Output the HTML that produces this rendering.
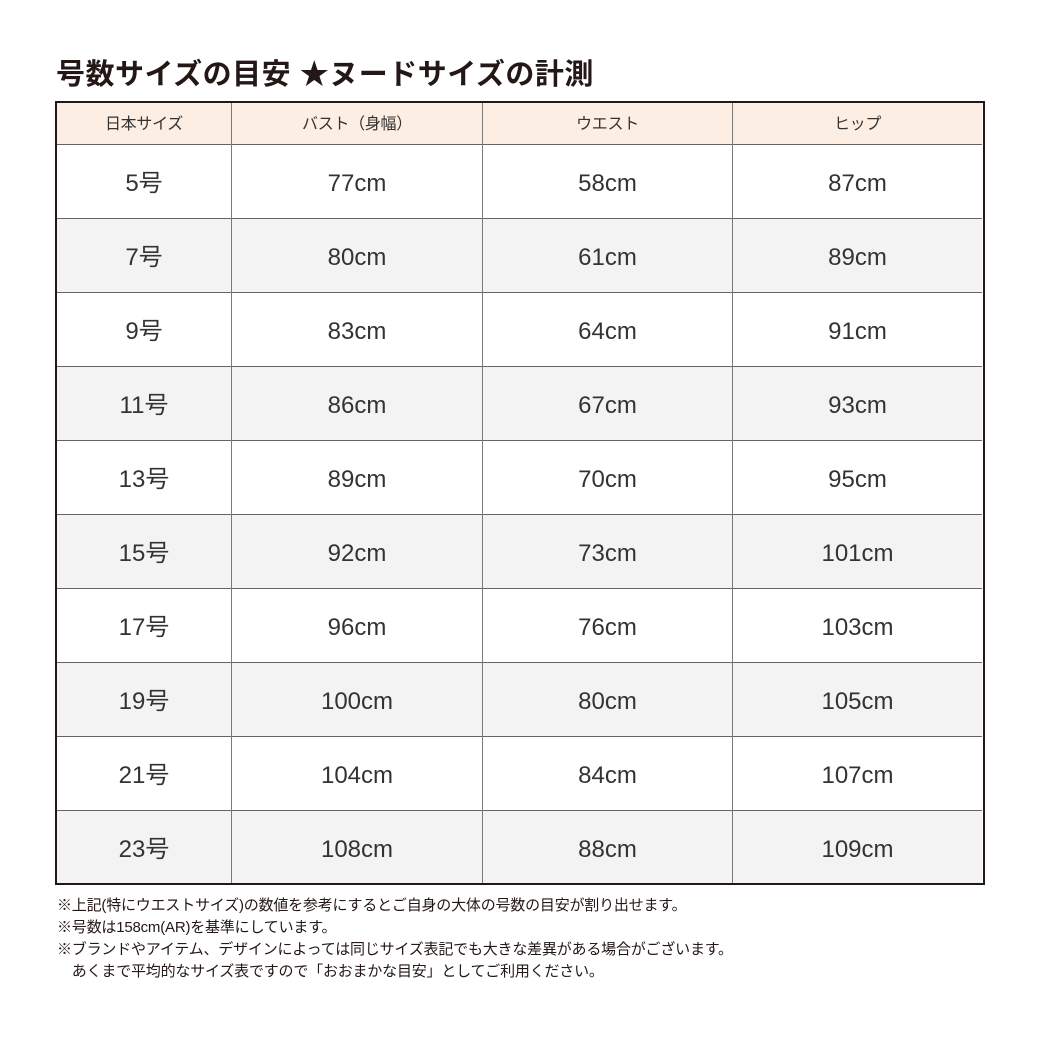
<!DOCTYPE html>
<html><head><meta charset="utf-8">
<style>
html,body{margin:0;padding:0;background:#fff;}
body{width:1040px;height:1040px;position:relative;overflow:hidden;font-family:"Liberation Sans","Noto Sans CJK JP",sans-serif;color:#333;}
.title{position:absolute;left:56px;top:55px;font-size:29px;line-height:40px;font-weight:bold;color:#231815;white-space:nowrap;letter-spacing:0.5px;}
.frame{position:absolute;left:55px;top:101px;width:926px;height:780px;border:2px solid #231815;}
.hdr{position:absolute;left:57px;top:103px;width:925px;height:41px;background:#fdeee3;}
.row{position:absolute;left:57px;width:925px;height:74px;}
.alt{background:#f3f3f3;}
.hl{position:absolute;left:57px;width:925px;height:1px;background:#666;}
.vl{position:absolute;top:103px;width:1px;height:780px;background:#7a7a7a;}
.c{position:absolute;text-align:center;white-space:nowrap;}
.h{font-size:16px;line-height:41px;top:104px;height:41px;letter-spacing:-0.3px;}
.d{font-size:24px;line-height:74px;height:74px;padding-top:3px;box-sizing:border-box;}
.foot{position:absolute;left:57px;top:895px;font-size:15px;line-height:22px;letter-spacing:-0.2px;color:#231815;white-space:nowrap;}
</style></head><body>
<div class="title">号数サイズの目安 ★ヌードサイズの計測</div>

<div class="hdr"></div>
<div class="row" style="top:144px"></div>
<div class="row alt" style="top:218px"></div>
<div class="row" style="top:292px"></div>
<div class="row alt" style="top:366px"></div>
<div class="row" style="top:440px"></div>
<div class="row alt" style="top:514px"></div>
<div class="row" style="top:588px"></div>
<div class="row alt" style="top:662px"></div>
<div class="row" style="top:736px"></div>
<div class="row alt" style="top:810px"></div>

<div class="hl" style="top:144px"></div>
<div class="hl" style="top:218px"></div>
<div class="hl" style="top:292px"></div>
<div class="hl" style="top:366px"></div>
<div class="hl" style="top:440px"></div>
<div class="hl" style="top:514px"></div>
<div class="hl" style="top:588px"></div>
<div class="hl" style="top:662px"></div>
<div class="hl" style="top:736px"></div>
<div class="hl" style="top:810px"></div>

<div class="vl" style="left:231px"></div>
<div class="vl" style="left:482px"></div>
<div class="vl" style="left:732px"></div>

<div class="frame"></div>

<div class="c h" style="left:57px;width:174px">日本サイズ</div>
<div class="c h" style="left:232px;width:250px">バスト（身幅）</div>
<div class="c h" style="left:483px;width:249px">ウエスト</div>
<div class="c h" style="left:733px;width:249px">ヒップ</div>

<div class="c d" style="left:57px;width:174px;top:144px">5号</div>
<div class="c d" style="left:232px;width:250px;top:144px">77cm</div>
<div class="c d" style="left:483px;width:249px;top:144px">58cm</div>
<div class="c d" style="left:733px;width:249px;top:144px">87cm</div>

<div class="c d" style="left:57px;width:174px;top:218px">7号</div>
<div class="c d" style="left:232px;width:250px;top:218px">80cm</div>
<div class="c d" style="left:483px;width:249px;top:218px">61cm</div>
<div class="c d" style="left:733px;width:249px;top:218px">89cm</div>

<div class="c d" style="left:57px;width:174px;top:292px">9号</div>
<div class="c d" style="left:232px;width:250px;top:292px">83cm</div>
<div class="c d" style="left:483px;width:249px;top:292px">64cm</div>
<div class="c d" style="left:733px;width:249px;top:292px">91cm</div>

<div class="c d" style="left:57px;width:174px;top:366px">11号</div>
<div class="c d" style="left:232px;width:250px;top:366px">86cm</div>
<div class="c d" style="left:483px;width:249px;top:366px">67cm</div>
<div class="c d" style="left:733px;width:249px;top:366px">93cm</div>

<div class="c d" style="left:57px;width:174px;top:440px">13号</div>
<div class="c d" style="left:232px;width:250px;top:440px">89cm</div>
<div class="c d" style="left:483px;width:249px;top:440px">70cm</div>
<div class="c d" style="left:733px;width:249px;top:440px">95cm</div>

<div class="c d" style="left:57px;width:174px;top:514px">15号</div>
<div class="c d" style="left:232px;width:250px;top:514px">92cm</div>
<div class="c d" style="left:483px;width:249px;top:514px">73cm</div>
<div class="c d" style="left:733px;width:249px;top:514px">101cm</div>

<div class="c d" style="left:57px;width:174px;top:588px">17号</div>
<div class="c d" style="left:232px;width:250px;top:588px">96cm</div>
<div class="c d" style="left:483px;width:249px;top:588px">76cm</div>
<div class="c d" style="left:733px;width:249px;top:588px">103cm</div>

<div class="c d" style="left:57px;width:174px;top:662px">19号</div>
<div class="c d" style="left:232px;width:250px;top:662px">100cm</div>
<div class="c d" style="left:483px;width:249px;top:662px">80cm</div>
<div class="c d" style="left:733px;width:249px;top:662px">105cm</div>

<div class="c d" style="left:57px;width:174px;top:736px">21号</div>
<div class="c d" style="left:232px;width:250px;top:736px">104cm</div>
<div class="c d" style="left:483px;width:249px;top:736px">84cm</div>
<div class="c d" style="left:733px;width:249px;top:736px">107cm</div>

<div class="c d" style="left:57px;width:174px;top:810px">23号</div>
<div class="c d" style="left:232px;width:250px;top:810px">108cm</div>
<div class="c d" style="left:483px;width:249px;top:810px">88cm</div>
<div class="c d" style="left:733px;width:249px;top:810px">109cm</div>

<div class="foot">※上記(特にウエストサイズ)の数値を参考にするとご自身の大体の号数の目安が割り出せます。<br>※号数は158cm(AR)を基準にしています。<br>※ブランドやアイテム、デザインによっては同じサイズ表記でも大きな差異がある場合がございます。<br>&#12288;あくまで平均的なサイズ表ですので「おおまかな目安」としてご利用ください。</div>
</body></html>
